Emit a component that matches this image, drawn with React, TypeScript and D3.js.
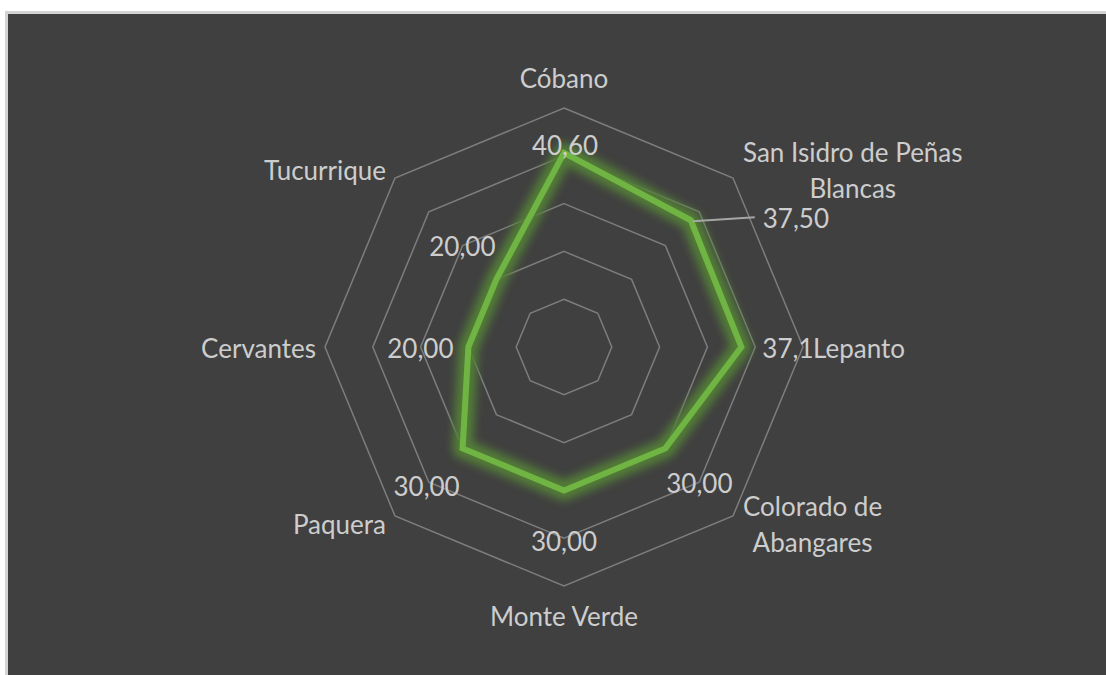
import { useEffect, useRef } from "react";
import * as d3 from "d3";

const categories = [
  "Cóbano",
  "San Isidro de Peñas\nBlancas",
  "Lepanto",
  "Colorado de\nAbangares",
  "Monte Verde",
  "Paquera",
  "Cervantes",
  "Tucurrique",
];
const values = [40.6, 37.5, 37.1, 30, 30, 30, 20, 20];
const valueLabels = ["40,60", "37,50", "37,1", "30,00", "30,00", "30,00", "20,00", "20,00"];
const gridTicks = [10, 20, 30, 40, 50];

// manual label nudges (dx, dy from the point), like the moved labels in the original
const labelNudge: [number, number, string][] = [
  [1, -8, "middle"],
  [72, -2, "start"],
  [21, 1, "start"],
  [34, 35, "middle"],
  [0, 51, "middle"],
  [-36, 38, "middle"],
  [-48, 1, "middle"],
  [-34, -33, "middle"],
];

export default function App() {
  const svgRef = useRef(null);
  const width = 1106;
  const height = 675;

  useEffect(() => {
    const svg = d3.select(svgRef.current);
    svg.selectAll("*").remove();

    const cx = 564;
    const cy = 347;
    const font = "Lato, 'Open Sans', sans-serif";
    const fontSize = 26;
    const textColor = "#cdcdcd";

    const r = d3.scaleLinear().domain([0, 50]).range([0, 239]);
    const angle = (i) => (i * 2 * Math.PI) / categories.length;
    const pt = (i, v) => [cx + r(v) * Math.sin(angle(i)), cy - r(v) * Math.cos(angle(i))];

    // glow filter
    const defs = svg.append("defs");
    const f = defs.append("filter").attr("id", "glow").attr("x", "-20%").attr("y", "-20%").attr("width", "140%").attr("height", "140%");
    f.append("feGaussianBlur").attr("stdDeviation", 4);

    // frame
    svg.append("rect").attr("width", width).attr("height", height).attr("fill", "#ffffff");
    svg.append("rect").attr("x", 5).attr("y", 11).attr("width", width).attr("height", height)
      .attr("fill", "#d4d4d4");
    svg.append("rect").attr("x", 8).attr("y", 14).attr("width", width).attr("height", height)
      .attr("fill", "#404040");

    // grid octagons
    const ring = d3.line().curve(d3.curveLinearClosed);
    svg.append("g").selectAll("path")
      .data(gridTicks)
      .join("path")
      .attr("d", (t) => ring(categories.map((_, i) => pt(i, t))))
      .attr("fill", "none")
      .attr("stroke", "#7d7d7d")
      .attr("stroke-width", 1.5);

    // series
    const seriesPts = values.map((v, i) => pt(i, v));
    svg.append("path")
      .attr("d", ring(seriesPts))
      .attr("fill", "none")
      .attr("stroke", "#527f37")
      .attr("stroke-opacity", 0.95)
      .attr("stroke-width", 20)
      .attr("stroke-linejoin", "round")
      .attr("filter", "url(#glow)");
    svg.append("path")
      .attr("d", ring(seriesPts))
      .attr("fill", "none")
      .attr("stroke", "#70b543")
      .attr("stroke-width", 6)
      .attr("stroke-linejoin", "miter");

    // category labels
    const outer = r.domain()[1];
    categories.forEach((name, i) => {
      const [vx, vy] = pt(i, outer);
      const s = Math.sin(angle(i));
      const c = Math.cos(angle(i));
      const lines = name.split("\n");
      const lh = 36;
      let y = vy;
      if (Math.abs(s) < 0.1) y = vy - c * 30;
      else if (Math.abs(c) < 0.1) y = vy + 1;
      else y = vy + (c > 0 ? -8 : 8);
      const g = svg.append("g");
      const texts = lines.map((ln, k) =>
        g.append("text")
          .attr("y", y + (k - (lines.length - 1) / 2) * lh)
          .attr("dominant-baseline", "central")
          .attr("font-family", font)
          .attr("font-size", fontSize)
          .attr("fill", textColor)
          .text(ln)
      );
      const widths = texts.map((t) => (t.node() as SVGTextElement).getComputedTextLength());
      const maxW = d3.max(widths) || 0;
      texts.forEach((t, k) => {
        if (Math.abs(s) < 0.1) {
          t.attr("x", vx).attr("text-anchor", "middle");
        } else if (s > 0) {
          t.attr("x", vx + 10 + (maxW - widths[k]) / 2);
        } else {
          t.attr("x", vx - 9 - maxW + (maxW - widths[k]) / 2);
        }
      });
    });

    // value labels
    seriesPts.forEach(([x, y], i) => {
      const [dx, dy, anchor] = labelNudge[i];
      svg.append("text")
        .attr("x", x + dx)
        .attr("y", y + dy)
        .attr("text-anchor", anchor)
        .attr("dominant-baseline", "central")
        .attr("font-family", font)
        .attr("font-size", fontSize)
        .attr("fill", textColor)
        .text(valueLabels[i]);
    });

    // leader line for the San Isidro label
    const [lx, ly] = seriesPts[1];
    svg.append("line")
      .attr("x1", lx + 2).attr("y1", ly + 1)
      .attr("x2", lx + 64).attr("y2", ly - 3)
      .attr("stroke", "#a6a6a6")
      .attr("stroke-width", 2);
  }, []);

  return (
    <svg
      ref={svgRef}
      width={width}
      height={height}
      style={{ position: "absolute", left: 0, top: 0, display: "block" }}
    />
  );
}
